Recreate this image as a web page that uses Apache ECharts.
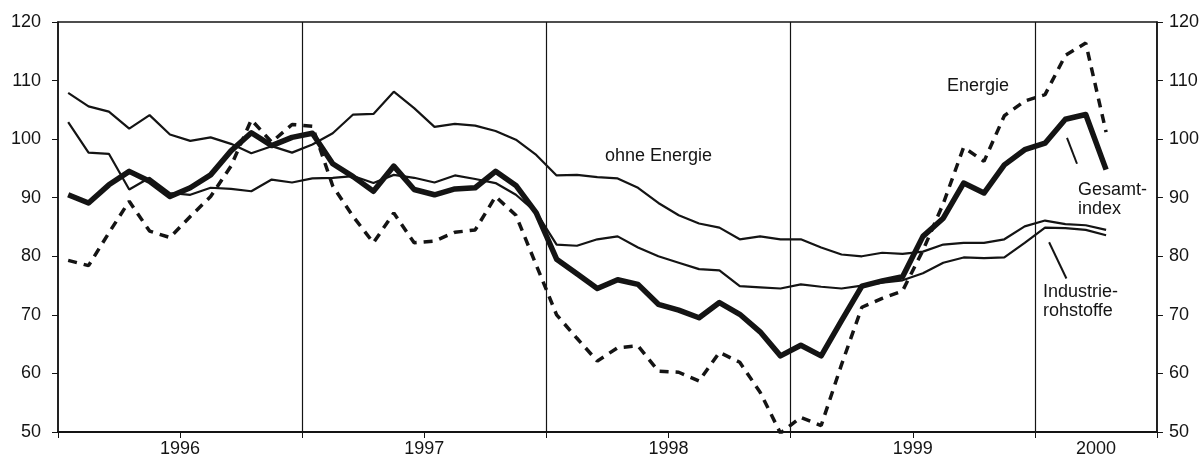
<!DOCTYPE html>
<html>
<head>
<meta charset="utf-8">
<title>Rohstoffpreise 1996 - 2000</title>
<script src="https://cdn.jsdelivr.net/npm/echarts@6/dist/echarts.min.js"></script>
<style>
    html, body { margin: 0; padding: 0; background: #fff; }
    #chart { width: 1202px; height: 458px; }
</style>
</head>
<body>
<div id="chart"></div>
<script>
// Monatswerte Jan 1996 bis Apr 2000
const months = [];
for (let y = 1996; y <= 2000; y++) {
    for (let m = 1; m <= 12; m++) {
        if (y === 2000 && m > 4) break;
        months.push(y + '-' + (m < 10 ? '0' + m : m));
    }
}

// Jahresbeschriftung (Position in Monaten ab Jan 1996)
const yearLabels = ['1996', '1997', '1998', '1999', '2000'];
const yearLabelPos = [6, 18, 30, 42, 51];
const yearBreaks = [12, 24, 36, 48];
const tickPos = [0, 6, 12, 18, 24, 30, 36, 42, 48, 54];

const gesamtindex = [
    90.5, 89.1, 92.2, 94.5, 92.8, 90.2, 91.7, 93.9, 98.0, 101.1, 98.9, 100.3,
    101.0, 95.8, 93.6, 91.1, 95.4, 91.4, 90.5, 91.5, 91.7, 94.5, 92.1, 87.4,
    79.5, 77.0, 74.5, 76.0, 75.2, 71.8, 70.8, 69.5, 72.1, 70.1, 67.1, 63.0,
    64.8, 63.0, 69.0, 74.9, 75.8, 76.5, 83.4, 86.5, 92.5, 90.8, 95.6, 98.2,
    99.3, 103.4, 104.2, 94.8
];

const ohneEnergie = [
    107.9, 105.6, 104.7, 101.8, 104.1, 100.8, 99.7, 100.3, 99.2, 97.6, 98.8, 97.7,
    99.1, 101.0, 104.2, 104.3, 108.1, 105.3, 102.1, 102.6, 102.3, 101.4, 99.9, 97.3,
    93.8, 93.9, 93.5, 93.3, 91.7, 89.1, 87.0, 85.6, 84.9, 82.9, 83.4, 82.9,
    82.9, 81.5, 80.3, 80.0, 80.6, 80.4, 80.8, 82.0, 82.3, 82.3, 82.9, 85.1,
    86.1, 85.5, 85.3, 84.5
];

const industrierohstoffe = [
    102.9, 97.7, 97.5, 91.4, 93.4, 90.8, 90.5, 91.7, 91.5, 91.1, 93.1, 92.6,
    93.3, 93.4, 93.7, 92.5, 93.9, 93.4, 92.6, 93.8, 93.2, 92.5, 90.5, 87.5,
    82.0, 81.8, 82.9, 83.4, 81.5, 80.0, 78.9, 77.8, 77.6, 74.9, 74.7, 74.5,
    75.2, 74.8, 74.5, 75.0, 75.5, 75.9, 77.1, 78.9, 79.8, 79.7, 79.8, 82.3,
    84.9, 84.8, 84.5, 83.6
];

const energie = [
    79.3, 78.4, 84.0, 89.4, 84.3, 83.2, 86.8, 90.2, 95.4, 103.3, 99.5, 102.5,
    102.2, 92.0, 86.8, 82.3, 87.4, 82.3, 82.6, 84.1, 84.5, 90.2, 87.0, 78.5,
    70.0, 66.0, 62.1, 64.4, 64.7, 60.4, 60.2, 58.7, 63.6, 61.9, 56.8, 49.8,
    52.5, 51.1, 61.5, 71.3, 72.8, 74.1, 81.0, 89.0, 98.6, 96.2, 104.0, 106.5,
    107.6, 114.3, 116.4, 101.2
];

const INK = '#141414';
const FONT = '"Liberation Sans", Arial, Helvetica, sans-serif';
const FS = 18;

// Monatswert in der Monatsmitte platzieren
function toPoints(values) {
    return values.map((v, i) => [i + 0.5, v]);
}

function yAxis(pos) {
    return {
        type: 'value',
        position: pos,
        min: 50,
        max: 120,
        interval: 10,
        axisLine: { show: true, lineStyle: { color: INK, width: 1.5 } },
        axisTick: { show: true, inside: false, length: 6, lineStyle: { color: INK } },
        axisLabel: { color: INK, fontSize: FS, fontFamily: FONT, margin: pos === 'left' ? 17 : 12 },
        splitLine: { show: false }
    };
}

const chart = echarts.init(document.getElementById('chart'));

chart.setOption({
    animation: false,
    backgroundColor: '#fff',
    grid: {
        left: 58, right: 45, top: 22, bottom: 25,
        show: true, borderColor: INK, borderWidth: 1.5
    },
    xAxis: {
        type: 'value',
        min: 0,
        max: 54,
        axisLine: { show: true, lineStyle: { color: INK, width: 2 } },
        axisTick: { show: true, length: 6, customValues: tickPos, lineStyle: { color: INK } },
        axisLabel: {
            customValues: yearLabelPos,
            color: INK, fontSize: FS, fontFamily: FONT, margin: 8,
            formatter: v => yearLabels[yearLabelPos.indexOf(v)] || ''
        },
        splitLine: { show: false }
    },
    yAxis: [yAxis('left'), yAxis('right')],
    series: [
        {
            name: 'ohne Energie',
            type: 'line',
            data: toPoints(ohneEnergie),
            symbol: 'none',
            lineStyle: { color: INK, width: 2.2 },
            markLine: {
                silent: true,
                symbol: ['none', 'none'],
                label: { show: false },
                lineStyle: { color: INK, width: 1.2, type: 'solid' },
                data: yearBreaks.map(x => ({ xAxis: x }))
            }
        },
        {
            name: 'Industrierohstoffe',
            type: 'line',
            data: toPoints(industrierohstoffe),
            symbol: 'none',
            lineStyle: { color: INK, width: 2.2 },
            markLine: {
                silent: true,
                symbol: ['none', 'none'],
                label: { show: false },
                lineStyle: { color: INK, width: 2, type: 'solid' },
                data: [[{ coord: [48.7, 82.4] }, { coord: [49.55, 76.2] }]]
            }
        },
        {
            name: 'Energie',
            type: 'line',
            data: toPoints(energie),
            symbol: 'none',
            lineStyle: { color: INK, width: 3.5, type: [9, 7] }
        },
        {
            name: 'Gesamtindex',
            type: 'line',
            data: toPoints(gesamtindex),
            symbol: 'none',
            lineStyle: { color: INK, width: 5.5, join: 'round' },
            markLine: {
                silent: true,
                symbol: ['none', 'none'],
                label: { show: false },
                lineStyle: { color: INK, width: 2, type: 'solid' },
                data: [[{ coord: [49.58, 100.2] }, { coord: [50.07, 95.8] }]]
            }
        }
    ],
    graphic: [
        { type: 'text', left: 605, top: 147, style: { text: 'ohne Energie', font: FS + 'px ' + FONT, fill: INK } },
        { type: 'text', left: 947, top: 77, style: { text: 'Energie', font: FS + 'px ' + FONT, fill: INK } },
        { type: 'text', left: 1078, top: 181, style: { text: 'Gesamt-\nindex', font: FS + 'px ' + FONT, fill: INK, lineHeight: 19 } },
        { type: 'text', left: 1043, top: 283, style: { text: 'Industrie-\nrohstoffe', font: FS + 'px ' + FONT, fill: INK, lineHeight: 19 } }
    ]
});
</script>
</body>
</html>
